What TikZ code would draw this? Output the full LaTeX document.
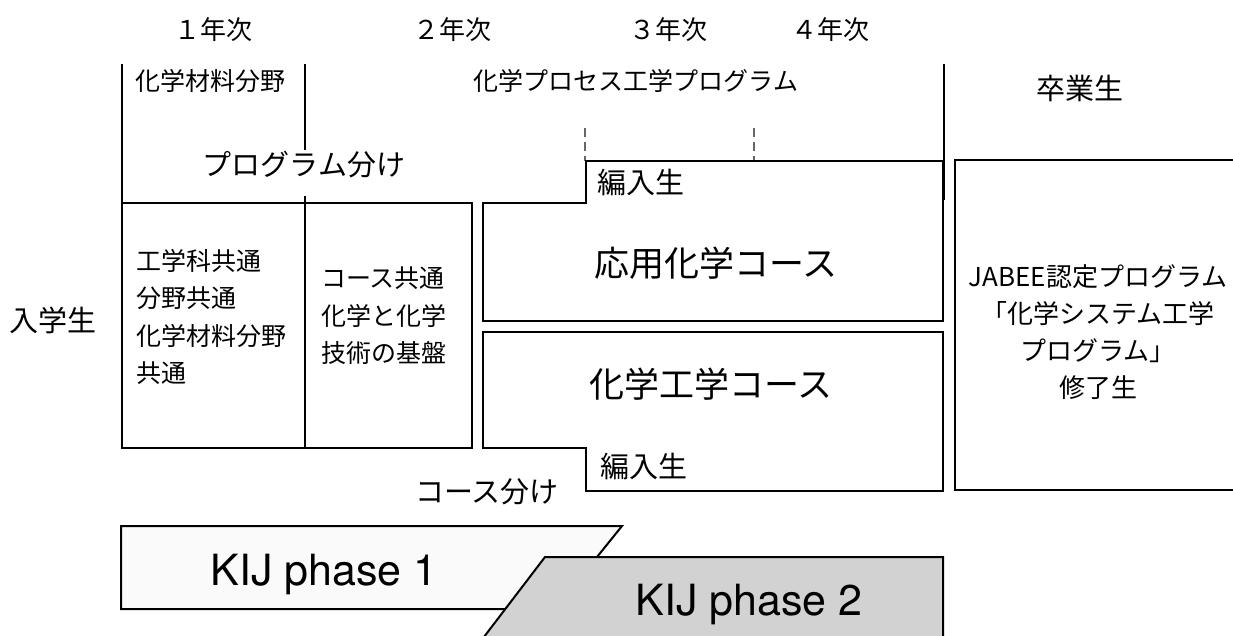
\documentclass[tikz,border=0pt]{standalone}
\usepackage{fontspec}
\setmainfont{Noto Sans CJK JP}
\newfontfamily\helv{TeX Gyre Heros}
\definecolor{phaseone}{HTML}{FAFAFA}
\definecolor{phasetwo}{HTML}{D2D2D2}
\definecolor{dashgray}{HTML}{666666}
\begin{document}
\begin{tikzpicture}[x=1pt,y=-1pt,line join=miter,
  boxline/.style={draw=black,line width=2.6pt},
  rule/.style={draw=black,line width=2pt},
  dashrule/.style={draw=dashgray,line width=1.5pt,dash pattern=on 9pt off 5pt},
  yr/.style={font=\fontsize{26}{30}\selectfont,inner sep=0pt},
  lab/.style={font=\fontsize{25}{30}\selectfont,inner sep=0pt},
  biglab/.style={font=\fontsize{29}{34}\selectfont,inner sep=0pt},
  course/.style={font=\fontsize{35}{40}\selectfont,inner sep=0pt},
  multi/.style={font=\fontsize{25}{37.5}\selectfont,inner sep=0pt,align=left},
  endlab/.style={font=\fontsize{26}{36.8}\selectfont,inner sep=0pt,align=center},
  phaselab/.style={font=\helv\fontsize{43}{50}\selectfont,inner sep=0pt,anchor=base}]
\useasboundingbox (0,0) rectangle (1233,636);

% year labels
\node[yr] (y1) at (213,30) {１年次};
\node[yr] (y2) at (452,30) {２年次};
\node[yr] (y3) at (668,30) {３年次};
\node[yr] (y4) at (830,30) {４年次};

% top region
\coordinate (la) at (122,64);
\coordinate (lb) at (122,203);
\coordinate (ma) at (305,64);
\coordinate (mb) at (305,150);
\coordinate (mc) at (305,196);
\coordinate (ra) at (944,64);
\coordinate (rb) at (944,200);
\draw[rule] (la) -- (lb);
\draw[rule] (ma) -- (mb);
\draw[rule] (mc) -- (305,203);
\draw[rule] (ra) -- (rb);
\coordinate (da) at (585,128);
\coordinate (db) at (585,161);
\coordinate (dc) at (754,128);
\coordinate (dd) at (754,161);
\draw[dashrule] (da) -- (db);
\draw[dashrule] (dc) -- (dd);

\node[lab] (zairyo) at (210,81) {化学材料分野};
\node[lab] (process) at (636,81) {化学プロセス工学プログラム};
\node[biglab] (progwake) at (304,165) {プログラム分け};
\node[biglab] (sotsu) at (1080,88) {卒業生};
\node[biglab] (nyu) at (53,320) {入学生};
\node[biglab] (coursewake) at (487,492) {コース分け};

% left box
\draw[boxline] (122,203) rectangle (472,448);
\draw[rule] (305,203) -- (305,448);
\node[multi,anchor=north west] (common1) at (136,249) {工学科共通\\分野共通\\化学材料分野\\共通};
\node[multi,anchor=north west] (common2) at (321,267) {コース共通\\化学と化学\\技術の基盤};

% applied chemistry course
\draw[boxline] (483,203) -- (586,203) -- (586,161) -- (943,161) -- (943,321) -- (483,321) -- cycle;
\node[biglab] (hen1) at (641,182) {編入生};
\node[course] (oyo) at (716,263) {応用化学コース};

% chemical engineering course
\draw[boxline] (483,332) -- (943,332) -- (943,491) -- (586,491) -- (586,448) -- (483,448) -- cycle;
\node[course] (kako) at (711,384) {化学工学コース};
\node[biglab] (hen2) at (644,466) {編入生};

% graduates box
\draw[boxline] (955,160) -- (1245,160) -- (1245,490) -- (955,490) -- cycle;
\node[endlab] (jabee) at (1098,332) {JABEE認定プログラム\\「化学システム工学\\プログラム」\\修了生};

% phases
\draw[rule,fill=phaseone] (121,526) -- (622,526) -- (555,609) -- (121,609) -- cycle;
\node[phaselab] (p1) at (324,585) {KIJ phase 1};
\draw[rule,fill=phasetwo] (545,557) -- (943,557) -- (943,650) -- (474,650) -- cycle;
\node[phaselab] (p2) at (749,615) {KIJ phase 2};
\end{tikzpicture}
\end{document}
